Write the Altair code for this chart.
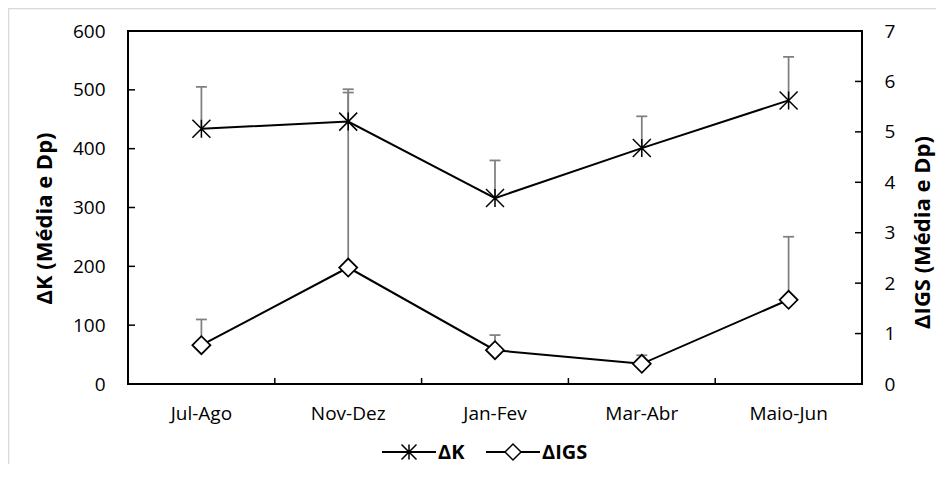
import altair as alt
import pandas as pd

# ---- data ----
periods = ["Jul-Ago", "Nov-Dez", "Jan-Fev", "Mar-Abr", "Maio-Jun"]
dk_mean = [434, 446, 316, 401, 482]
dk_sd = [71, 55, 64, 54, 74]
digs_mean = [0.77, 2.31, 0.67, 0.40, 1.67]
digs_sd = [0.51, 3.47, 0.30, 0.17, 1.25]
left_ticks = [0, 100, 200, 300, 400, 500, 600]
right_ticks = [0, 1, 2, 3, 4, 5, 6, 7]
series = ["ΔK", "ΔIGS"]

W, H = 734, 353
FONT = "Open Sans"
GREY = "#808080"

STAR = "M-1,-1L1,1M-1,1L1,-1M0,-1L0,1"

df_k = pd.DataFrame({"period": periods, "mean": dk_mean, "sd": dk_sd})
df_i = pd.DataFrame({"period": periods, "mean": digs_mean, "sd": digs_sd})
df_lt = pd.DataFrame({"v": left_ticks})
df_rt = pd.DataFrame({"v": right_ticks})
df_x = pd.DataFrame({"period": periods})
df_leg = pd.DataFrame({"series": series})
df_one = pd.DataFrame({"a": [0]})

band = alt.Scale(type="band", paddingInner=0, paddingOuter=0)
x_axis = alt.Axis(orient="bottom", title=None, labelAngle=0, labelFontSize=19,
                  labelColor="black", labelPadding=20, ticks=False, tickSize=0,
                  domain=False, grid=False)


def xenc(**kw):
    return alt.X("period:N", sort=periods, scale=band, axis=x_axis, **kw)


left_axis = alt.Axis(orient="left", values=left_ticks, title="ΔK (Média e Dp)",
                     ticks=False, tickSize=0, domain=False, grid=False,
                     labelFontSize=19, labelColor="black", labelPadding=23,
                     titleAngle=270, titleX=-84, titleY=187, titleAlign="center",
                     titleBaseline="middle", titleFontSize=22, titleFontWeight="bold",
                     titleColor="black")
right_axis = alt.Axis(orient="right", values=right_ticks, title="ΔIGS (Média e Dp)",
                      ticks=False, tickSize=0, domain=False, grid=False,
                      labelFontSize=19, labelColor="black", labelPadding=22,
                      titleAngle=270, titleX=60, titleY=201, titleAlign="center",
                      titleBaseline="middle", titleFontSize=22, titleFontWeight="bold",
                      titleColor="black")


def yL(field):
    return alt.Y(f"{field}:Q", scale=alt.Scale(domain=[0, 600]), axis=left_axis)


def yR(field):
    return alt.Y(f"{field}:Q", scale=alt.Scale(domain=[0, 7]), axis=right_axis)


# outer light grey frame of the figure
frame = alt.Chart(df_one).mark_rect(fill="white", fillOpacity=0, stroke="#d9d9d9", strokeWidth=1.5).encode(
    x=alt.value(-119.5), x2=alt.value(W + 200), y=alt.value(-22.5), y2=alt.value(H + 200)
)

# ---- ΔIGS (right axis) ----
base_i = alt.Chart(df_i).transform_calculate(upper="datum.mean + datum.sd")
i_err = base_i.mark_rule(color=GREY, strokeWidth=1.75).encode(x=xenc(), y=yR("mean"), y2="upper:Q")
i_cap = base_i.mark_tick(color=GREY, thickness=1.75, size=11, opacity=1).encode(x=xenc(), y=yR("upper"))
i_line = base_i.mark_line(color="black", strokeWidth=2).encode(x=xenc(), y=yR("mean"))
i_pts = base_i.mark_point(shape="diamond", size=324, fill="white", stroke="black",
                          strokeWidth=1.75, opacity=1).encode(x=xenc(), y=yR("mean"))
r_ticks = alt.Chart(df_rt).mark_rule(color="black", strokeWidth=1.5).encode(
    y=yR("v"), x=alt.value(W - 7), x2=alt.value(W))
right_group = alt.layer(i_err, i_cap, i_line, i_pts, r_ticks)

# ---- ΔK (left axis) ----
base_k = alt.Chart(df_k).transform_calculate(upper="datum.mean + datum.sd")
k_err = base_k.mark_rule(color=GREY, strokeWidth=1.75).encode(x=xenc(), y=yL("mean"), y2="upper:Q")
k_cap = base_k.mark_tick(color=GREY, thickness=1.75, size=11, opacity=1).encode(x=xenc(), y=yL("upper"))
k_line = base_k.mark_line(color="black", strokeWidth=2).encode(x=xenc(), y=yL("mean"))
k_pts = base_k.mark_point(shape=STAR, size=324, filled=False, stroke="black",
                          strokeWidth=1.5, opacity=1).encode(x=xenc(), y=yL("mean"))
l_ticks = alt.Chart(df_lt).mark_rule(color="black", strokeWidth=1.5).encode(
    y=yL("v"), x=alt.value(0), x2=alt.value(7))
x_ticks = alt.Chart(df_x).mark_rule(color="black", strokeWidth=1.5).encode(
    x=xenc(bandPosition=0), y=alt.value(H - 6), y2=alt.value(H))

left_group = alt.layer(k_err, k_cap, k_line, k_pts, l_ticks, x_ticks)


# ---- legend (line + marker + bold label), laid out below the plot ----
def legend_entry(name, x0, shape, size, fill):
    LY = H + 68
    src = alt.Chart(df_leg).transform_filter(alt.datum.series == name)
    seg = src.mark_rule(color="black", strokeWidth=2).encode(
        x=alt.value(x0), x2=alt.value(x0 + 54), y=alt.value(LY))
    mk = src.mark_point(shape=shape, size=size, fill=fill, stroke="black",
                        strokeWidth=1.5, opacity=1).encode(x=alt.value(x0 + 27), y=alt.value(LY))
    lab = src.mark_text(align="left", baseline="middle", fontSize=20, fontWeight="bold",
                        font=FONT, color="black").encode(
        x=alt.value(x0 + 56), y=alt.value(LY + 1), text="series:N")
    return alt.layer(seg, mk, lab)


legend = alt.layer(
    legend_entry("ΔK", 254, STAR, 225, "transparent"),
    legend_entry("ΔIGS", 358, "diamond", 256, "white"),
)

chart = alt.layer(frame, right_group, left_group, legend).resolve_scale(
    y="independent"
).properties(
    width=W, height=H,
    autosize=alt.AutoSizeParams(type="none"),
    padding={"left": 120, "top": 23, "right": 74, "bottom": 80},
).configure(font=FONT).configure_view(stroke="black", strokeWidth=2)

chart.save("out.html", embed_options={"renderer": "svg", "actions": False})
